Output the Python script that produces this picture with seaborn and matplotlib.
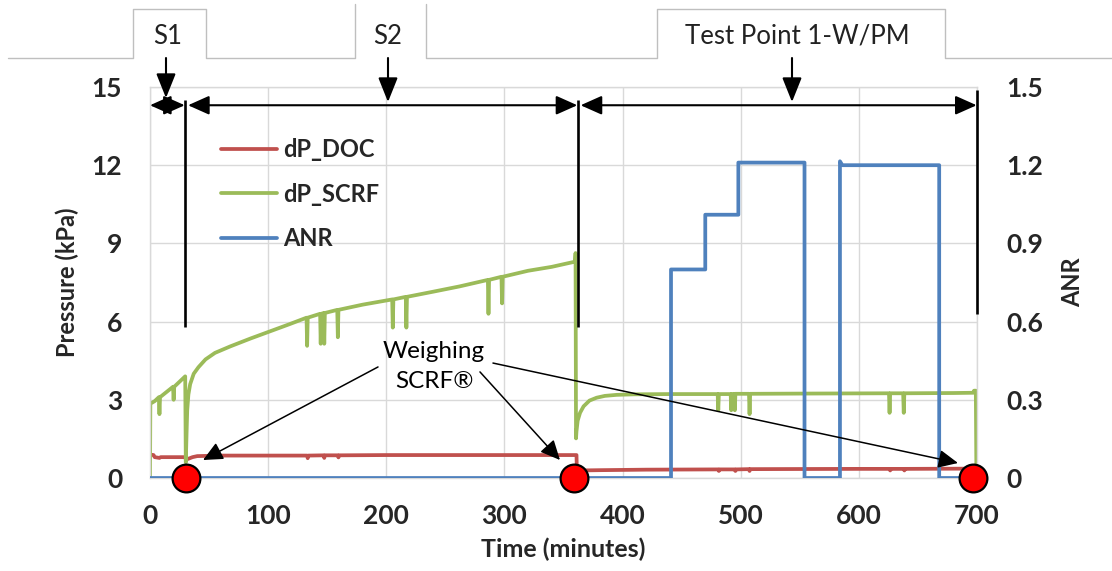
import matplotlib
matplotlib.use("Agg")
import matplotlib.pyplot as plt
import seaborn as sns
from matplotlib.lines import Line2D

sns.set_theme(style="white")
plt.rcParams["font.family"] = ["Lato", "DejaVu Sans"]

# ---------------- data ----------------
doc_t = [0, 3, 4, 8, 9, 15, 29, 30, 32, 36, 40, 60, 133, 133.5, 134, 147, 147.5, 148,
         159, 159.5, 160, 200, 250, 300, 340, 361, 361.3, 365, 380, 420, 481, 481.5, 482,
         495, 495.5, 496, 507, 507.5, 508, 600, 626, 626.5, 627, 638, 638.5, 639, 699]
doc_p = [0.9, 0.88, 0.8, 0.77, 0.8, 0.8, 0.8, 0.76, 0.73, 0.8, 0.84, 0.86, 0.86, 0.76, 0.86,
         0.87, 0.77, 0.87, 0.87, 0.79, 0.87, 0.88, 0.88, 0.88, 0.88, 0.88, 0.28, 0.29, 0.3,
         0.32, 0.33, 0.27, 0.33, 0.33, 0.27, 0.33, 0.34, 0.27, 0.34, 0.35, 0.35, 0.29, 0.35,
         0.35, 0.29, 0.35, 0.36]

scrf_t = [0, 0.3, 4, 7.5, 8, 8.5, 14, 19.5, 20, 20.5, 29.8, 30.3, 31.0, 31.5, 32.5, 34, 37,
          41, 47, 55, 68, 85, 100, 118, 132.5, 133, 133.5, 144, 144.5, 145, 147, 147.5, 148,
          158.5, 159, 159.5, 180, 205, 205.5, 206, 216.5, 217, 217.5, 240, 262, 286, 286.5,
          287, 297.5, 298, 298.5, 320, 340, 359.8, 360.2, 360.6, 361, 362, 364, 367, 372, 378,
          385, 395, 410, 440, 480.5, 481, 481.5, 491.5, 492, 492.5, 494.5, 495, 495.5, 507,
          507.5, 508, 560, 625.5, 626, 626.5, 637.5, 638, 638.5, 680, 697, 697.5, 699, 699.5]
scrf_p = [0, 2.85, 2.95, 3.1, 2.45, 3.1, 3.3, 3.5, 3.0, 3.5, 3.9, 0.6, 1.8, 2.6, 3.2, 3.6, 4.0,
          4.25, 4.55, 4.8, 5.05, 5.35, 5.6, 5.9, 6.15, 5.07, 6.15, 6.3, 5.15, 6.3, 6.33, 5.15,
          6.33, 6.45, 5.4, 6.45, 6.65, 6.85, 5.77, 6.85, 6.95, 5.77, 6.95, 7.15, 7.35, 7.6,
          6.3, 7.6, 7.72, 6.7, 7.72, 7.95, 8.1, 8.3, 8.63, 1.52, 1.8, 2.2, 2.5, 2.75, 2.97,
          3.08, 3.15, 3.19, 3.21, 3.22, 3.22, 2.6, 3.22, 3.22, 2.6, 3.22, 3.23, 2.6, 3.23,
          3.23, 2.45, 3.23, 3.24, 3.25, 2.5, 3.25, 3.25, 2.5, 3.25, 3.26, 3.27, 3.35, 3.35, 0]

anr_t = [0, 441, 441, 470, 470, 498, 498, 554, 554, 584, 584, 586, 668, 668, 697]
anr_v = [0, 0, 0.80, 0.80, 1.01, 1.01, 1.21, 1.21, 0, 0, 1.215, 1.20, 1.20, 0, 0]

weigh_t = [30.5, 359, 697]
weigh_p = [0, 0, 0]

x_ticks = [0, 100, 200, 300, 400, 500, 600, 700]
p_ticks = [0, 3, 6, 9, 12, 15]
anr_ticks = [0, 0.3, 0.6, 0.9, 1.2, 1.5]
anr_tick_labels = ["0", "0.3", "0.6", "0.9", "1.2", "1.5"]

phase_bounds = [0, 29.7, 362, 700]
phase_line_bottom = [5.8, 5.8, 6.3]
phase_line_top = [14.5, 14.5, 14.9]
phase_labels = ["S1", "S2", "Test Point 1-W/PM"]

series_names = ["dP_DOC", "dP_SCRF", "ANR"]

RED, GREEN, BLUE = "#C0504D", "#9BBB59", "#4F81BD"
GRID = "#D9D9D9"

# ---------------- figure ----------------
W, H = 1112, 571
fig = plt.figure(figsize=(W / 100, H / 100), dpi=100)
L, R, T, B = 150, 977, 87, 478
rect = [L / W, 1 - B / H, (R - L) / W, (B - T) / H]
ax = fig.add_axes(rect)
ax2 = ax.twinx()

lw = 2.7
sns.lineplot(x=doc_t, y=doc_p, ax=ax, color=RED, lw=lw, estimator=None, sort=False)
sns.lineplot(x=scrf_t, y=scrf_p, ax=ax, color=GREEN, lw=lw, estimator=None, sort=False)
sns.lineplot(x=anr_t, y=anr_v, ax=ax2, color=BLUE, lw=lw, estimator=None, sort=False)

ax.set_xlim(0, 700)
ax.set_ylim(0, 15)
ax2.set_ylim(0, 1.5)
ax.set_xticks(x_ticks)
ax.set_yticks(p_ticks)
ax2.set_yticks(anr_ticks)
ax2.set_yticklabels(anr_tick_labels)
ax.grid(True, color=GRID, lw=1)
ax.set_axisbelow(True)
for s in ax.spines.values():
    s.set_color(GRID)
    s.set_linewidth(1)
for s in ax2.spines.values():
    s.set_visible(False)

ax.tick_params(axis="y", length=0, pad=20)
ax.tick_params(axis="x", length=0, pad=19)
ax2.tick_params(axis="y", length=0, pad=21)
for lab in ax.get_xticklabels() + ax.get_yticklabels() + ax2.get_yticklabels():
    lab.set_fontsize(19)
    lab.set_fontweight("bold")

ax.set_xlabel("Time (minutes)", fontsize=18, fontweight="bold")
ax.xaxis.set_label_coords(0.5, -0.153)
ax.set_ylabel("Pressure (kPa)", fontsize=17, fontweight="bold")
ax.yaxis.set_label_coords(-0.086, 0.5)
ax2.set_ylabel("ANR", fontsize=17, fontweight="bold")
ax2.yaxis.set_label_coords(1.102, 0.5)

handles = [Line2D([], [], color=c, lw=lw) for c in (RED, GREEN, BLUE)]
ax2.legend(handles, series_names, loc="upper left", bbox_to_anchor=(221 / W, 1 - 138 / H),
           bbox_transform=fig.transFigure, frameon=False, borderpad=0, borderaxespad=0,
           handlelength=2.37, handletextpad=0.25, labelspacing=0.92,
           prop={"weight": "bold", "size": 17})

# ---------------- annotation layer in data units ----------------
ax3 = fig.add_axes(rect)
ax3.set_xlim(0, 700)
ax3.set_ylim(0, 15)
ax3.axis("off")
ax3.patch.set_visible(False)

br_y = 14.3
for a, b in zip(phase_bounds[:-1], phase_bounds[1:]):
    ax3.annotate("", xy=(b - 0.3, br_y), xytext=(a + 2.5 if a > 0 else a, br_y),
                 arrowprops=dict(arrowstyle="<|-|>,head_length=0.65,head_width=0.29",
                                 mutation_scale=20, lw=1.5, color="black",
                                 shrinkA=0, shrinkB=0),
                 annotation_clip=False)
for xb, y0, y1 in zip(phase_bounds[1:], phase_line_bottom, phase_line_top):
    ax3.plot([xb, xb], [y0, y1], color="black", lw=1.9, clip_on=False, solid_capstyle="butt")

sns.scatterplot(x=weigh_t, y=weigh_p, ax=ax3, s=400, color="#FF0000", edgecolor="black",
                linewidth=1.6, zorder=10, clip_on=False)

ax3.text(240.4, 4.87, "Weighing", ha="center", va="center", fontsize=17.5, color="black")
ax3.text(240.4, 3.72, "SCRF®", ha="center", va="center", fontsize=17.5, color="black")
arrow_starts = [(193.0, 4.26), (279.3, 4.07), (290.3, 4.41)]
arrow_ends = [(44.9, 0.69), (347.0, 0.69), (683.9, 0.575)]
for (sx, sy), (ex, ey) in zip(arrow_starts, arrow_ends):
    ax3.annotate("", xy=(ex, ey), xytext=(sx, sy),
                 arrowprops=dict(arrowstyle="-|>,head_length=0.6,head_width=0.28",
                                 mutation_scale=20, lw=1.1, color="black",
                                 shrinkA=0, shrinkB=0),
                 annotation_clip=False)

# ---------------- tab header layer in pixel units ----------------
ov = fig.add_axes([0, 0, 1, 1])
ov.set_xlim(0, W)
ov.set_ylim(H, 0)
ov.axis("off")
ov.patch.set_visible(False)
TAB = "#BFBFBF"
base_y, top_y = 58, 9
ov.plot([8, 133, 133, 206, 206, 355, 355], [base_y, base_y, top_y, top_y, base_y, base_y, 4],
        color=TAB, lw=1)
ov.plot([426, 426, 657, 657, 945, 945, 1112], [4, base_y, base_y, top_y, top_y, base_y, base_y],
        color=TAB, lw=1)
tab_text_x = [168, 388, 797]
for tx, lab in zip(tab_text_x, phase_labels):
    ov.text(tx, 36, lab, ha="center", va="center", fontsize=18.5, color="#222222")
arrow_x = [166, 388, 792]
arrow_tip = [98, 102, 102]
for axx, tip in zip(arrow_x, arrow_tip):
    ov.annotate("", xy=(axx, tip), xytext=(axx, 58),
                arrowprops=dict(arrowstyle="-|>,head_length=0.75,head_width=0.3",
                                mutation_scale=20, lw=1.5, color="black",
                                shrinkA=0, shrinkB=0))

fig.savefig("out.png", dpi=100)
